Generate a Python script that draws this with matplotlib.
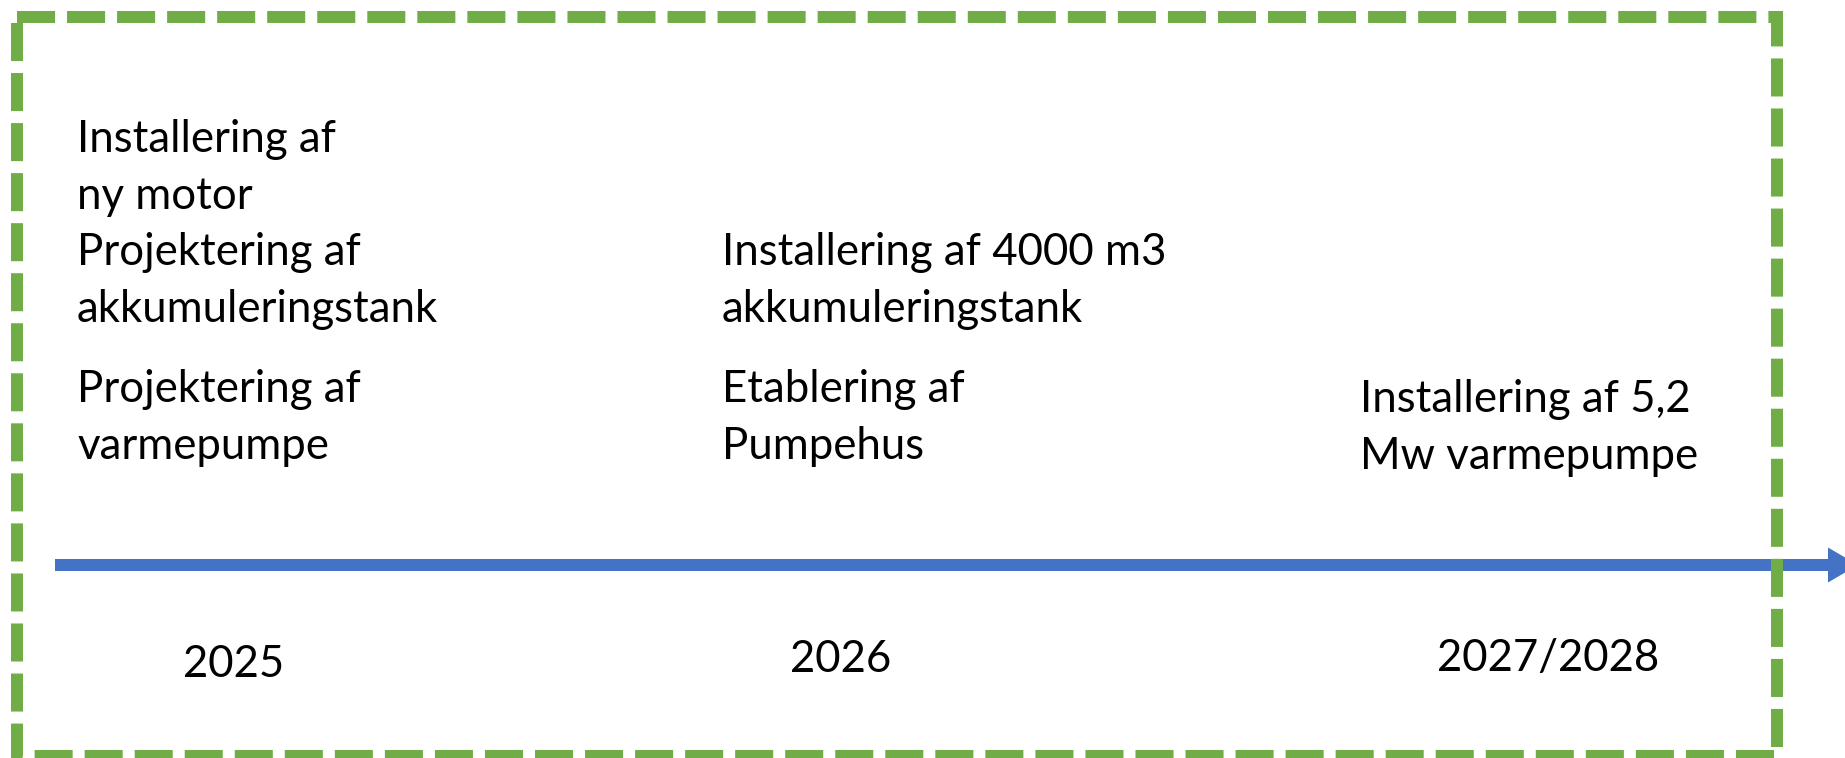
import matplotlib
matplotlib.use('Agg')
import matplotlib.pyplot as plt
from matplotlib.patches import Rectangle

plt.rcParams['font.family'] = ['Lato', 'DejaVu Sans']

# data
years = ['2025', '2026', '2027/2028']
events_2025 = [['Installering af', 'ny motor'],
               ['Projektering af', 'akkumuleringstank'],
               ['Projektering af', 'varmepumpe']]
events_2026 = [['Installering af 4000 m3', 'akkumuleringstank'],
               ['Etablering af', 'Pumpehus']]
events_2027 = [['Installering af 5,2', 'Mw varmepumpe']]
events = [events_2025, events_2026, events_2027]

# layout (pixel coords of the 1845x758 canvas)
W, H = 1845, 758
year_x = [234, 841, 1548]
year_y = [677, 672, 671]
text_x = [77, 722, 1360]
para_y = [[152, 265, 402], [265, 402], [412]]
line_step = 57
fs = 31.5

fig = plt.figure(figsize=(W / 100, H / 100), dpi=100)
ax = fig.add_axes([0, 0, 1, 1])
ax.set_xlim(0, W)
ax.set_ylim(H, 0)
ax.axis('off')

# timeline arrow
blue = '#4472C4'
ax.arrow(55, 565, 1858 - 55, 0, width=12, head_width=35, head_length=30,
         length_includes_head=True, color=blue, lw=0, zorder=2)

# dashed green frame
green = '#70AD47'
frame = Rectangle((17, 17), 1777 - 17, 756 - 17, fill=False, ec=green,
                  lw=8.64, ls=(0, (3.17, 1.0)), zorder=3)
frame.set_capstyle('butt')
frame.set_joinstyle('miter')
ax.add_patch(frame)

for i, col in enumerate(events):
    for j, para in enumerate(col):
        for k, line in enumerate(para):
            ax.text(text_x[i], para_y[i][j] + k * line_step, line,
                    fontsize=fs, ha='left', va='baseline', color='black')

for i, y in enumerate(years):
    ax.text(year_x[i], year_y[i], y, fontsize=fs, ha='center',
            va='baseline', color='black')

fig.savefig('out.png', dpi=100)
